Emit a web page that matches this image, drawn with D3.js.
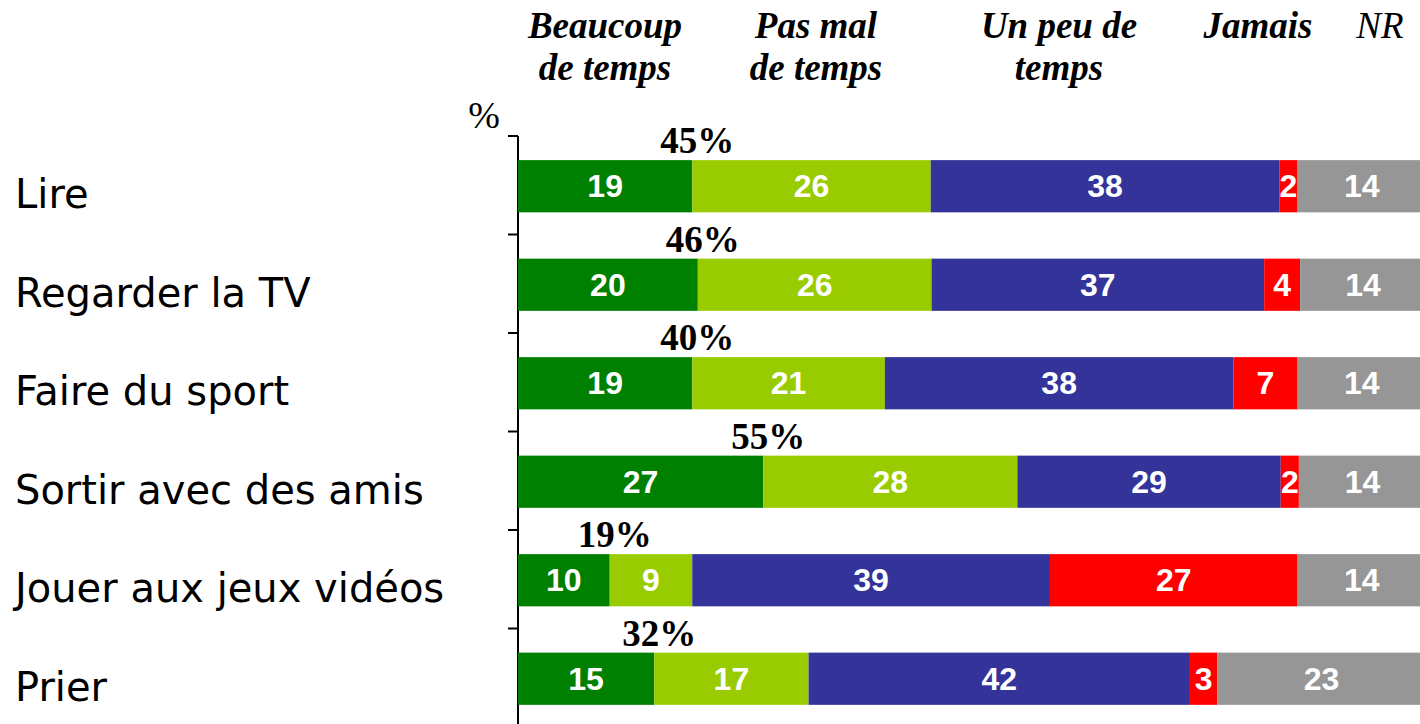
<!DOCTYPE html>
<html>
<head>
<meta charset="utf-8">
<script src="https://cdn.jsdelivr.net/npm/d3@7"></script>
<style>
  body { margin: 0; background: #fff; }
  svg { display: block; }
</style>
</head>
<body>
<svg id="chart"></svg>
<script>
// categories (rows) and answer series
const activities = ["Lire", "Regarder la TV", "Faire du sport", "Sortir avec des amis", "Jouer aux jeux vidéos", "Prier"]
const beaucoup = [19, 20, 19, 27, 10, 15]
const pasMal   = [26, 26, 21, 28, 9, 17]
const unPeu    = [38, 37, 38, 29, 39, 42]
const jamais   = [2, 4, 7, 2, 27, 3]
const nr       = [14, 14, 14, 14, 14, 23]
const seriesNames = ["Beaucoup de temps", "Pas mal de temps", "Un peu de temps", "Jamais", "NR"]
const seriesColors = ["#008000", "#99cc00", "#333399", "#ff0000", "#969696"]

const width = 1420, height = 724
const svg = d3.select("#chart").attr("width", width).attr("height", height)

// each row is a 100% stacked bar
const x = d3.scaleLinear().domain([0, 100]).range([518, 1426])
const yRow = d3.scaleBand().domain(activities).range([136, 727])
const barTop = yRow.bandwidth() * 0.245
const barH = yRow.bandwidth() * 0.53

const rows = activities.map((a, i) => {
    const vals = [beaucoup[i], pasMal[i], unPeu[i], jamais[i], nr[i]]
    const sum = d3.sum(vals)
    let acc = 0
    const segs = vals.map((v, k) => {
        const s = {x0: acc, x1: acc + v / sum * 100, v: v, k: k}
        acc = s.x1
        return s
    })
    return {name: a, segs: segs, total: beaucoup[i] + pasMal[i]}
})

// headers above columns
const headers = [
    {lines: ["Beaucoup", "de temps"], cx: 605, bold: true},
    {lines: ["Pas mal", "de temps"], cx: 816, bold: true},
    {lines: ["Un peu de", "temps"], cx: 1059, bold: true},
    {lines: ["Jamais"], cx: 1258, bold: true},
    {lines: ["NR"], cx: 1380, bold: false}
]
headers.forEach(h => {
    const t = svg.append("text")
        .attr("text-anchor", "middle")
        .style("font-family", "'Liberation Serif', 'Times New Roman', serif")
        .style("font-style", "italic")
        .style("font-weight", h.bold ? "bold" : "normal")
        .style("font-size", "37px")
    h.lines.forEach((l, j) => {
        t.append("tspan").attr("x", h.cx).attr("y", 38 + j * 42).text(l)
    })
})

svg.append("text").attr("x", 484).attr("y", 128).attr("text-anchor", "middle")
    .style("font-family", "'Liberation Serif', serif").style("font-size", "38px").text("%")

// axis
svg.append("line").attr("x1", x(0)).attr("x2", x(0)).attr("y1", yRow.range()[0]).attr("y2", height)
    .attr("stroke", "#000").attr("stroke-width", 2)
svg.selectAll(".tick").data(activities).enter().append("line")
    .attr("x1", x(0) - 10).attr("x2", x(0))
    .attr("y1", d => yRow(d)).attr("y2", d => yRow(d))
    .attr("stroke", "#000").attr("stroke-width", 2)

const g = svg.selectAll(".row").data(rows).enter().append("g")
    .attr("transform", d => `translate(0,${yRow(d.name)})`)

g.selectAll("rect").data(d => d.segs).enter().append("rect")
    .attr("x", d => x(d.x0))
    .attr("width", d => x(d.x1) - x(d.x0))
    .attr("y", barTop).attr("height", barH)
    .attr("fill", d => seriesColors[d.k])

g.selectAll(".val").data(d => d.segs).enter().append("text")
    .attr("x", d => (x(d.x0) + x(d.x1)) / 2)
    .attr("y", barTop + barH / 2 + 11)
    .attr("text-anchor", "middle")
    .style("font-family", "'Liberation Sans', Arial, sans-serif")
    .style("font-weight", "bold").style("font-size", "32px")
    .attr("fill", "#fff")
    .text(d => d.v)

g.append("text")
    .attr("x", d => x(d.segs[0].x1) + 5)
    .attr("y", barTop - 7)
    .attr("text-anchor", "middle")
    .style("font-family", "'Liberation Serif', 'Times New Roman', serif")
    .style("font-weight", "bold").style("font-size", "37px")
    .text(d => d.total + "%")

g.append("text")
    .attr("x", 15)
    .attr("y", barTop + barH / 2 + 22)
    .style("font-family", "'DejaVu Sans', sans-serif")
    .style("font-size", "40px")
    .text(d => d.name)
</script>
</body>
</html>
